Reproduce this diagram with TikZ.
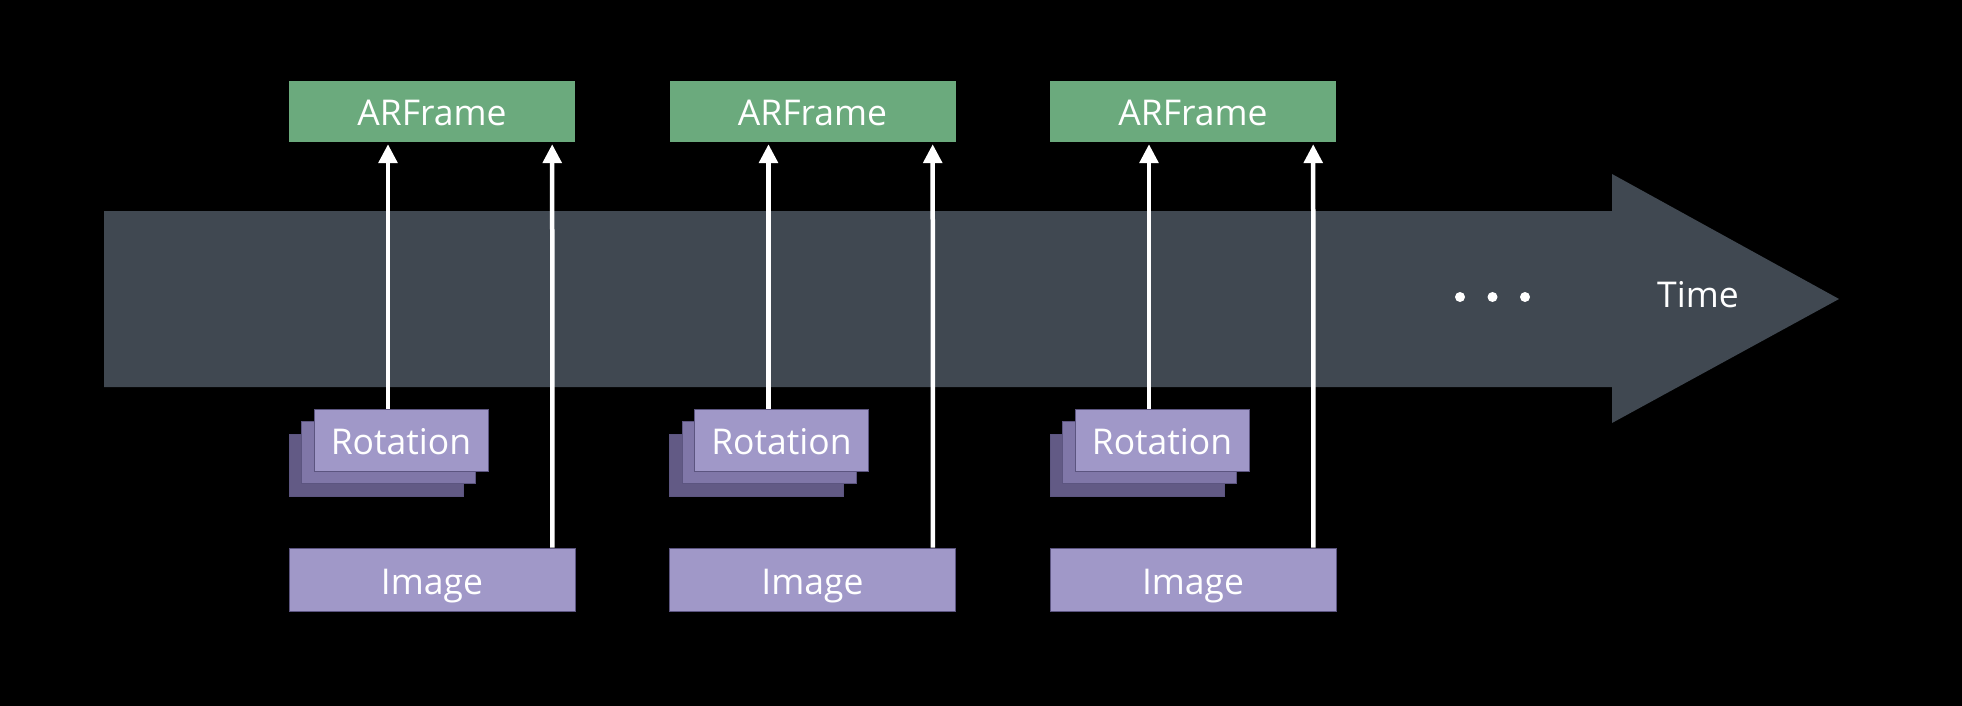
\documentclass[tikz,border=0pt]{standalone}
\usepackage{fontspec}
\setmainfont{Open Sans}
\usetikzlibrary{arrows.meta}
\definecolor{framegreen}{HTML}{6BAA7D}
\definecolor{timebody}{HTML}{404851}
\definecolor{purpleA}{HTML}{A098C8}
\definecolor{purpleB}{HTML}{8077A8}
\definecolor{purpleC}{HTML}{625A85}
\definecolor{purpleEdge}{HTML}{5C5580}
\begin{document}
\begin{tikzpicture}[x=1pt,y=-1pt,
  lbl/.style={inner sep=0pt, text=white, font=\fontsize{35.5}{40}\selectfont, text height=29pt, text depth=0pt},
  framebox/.style={lbl, fill=framegreen, minimum width=286pt, minimum height=61pt},
  imgbox/.style={lbl, fill=purpleA, draw=purpleEdge, line width=0.8pt, minimum width=286pt, minimum height=63pt},
  rotbox/.style={lbl, draw=purpleEdge, line width=0.8pt, minimum width=174pt, minimum height=62pt},
  arr/.style={draw=white, line width=4.5pt, -{Triangle[width=18.5pt,length=19pt]}, shorten >=2pt},
  dot/.style={circle, fill=white, inner sep=0pt, minimum size=10pt}]
\useasboundingbox (0,0) rectangle (1962,706);
\fill[black] (0,0) rectangle (1962,706);
% time arrow
\fill[timebody] (104,211) -- (1612,211) -- (1612,174) -- (1839,299) -- (1612,423) -- (1612,387) -- (104,387) -- cycle;
\node[dot] (d1) at (1460,297) {};
\node[dot] (d2) at (1492.5,297) {};
\node[dot] (d3) at (1525,297) {};
\node[lbl] (time) at (1698,293) {Time};
\foreach \i/\dx in {1/0,2/380.5,3/761}{
  \node[framebox] (ar\i) at (432+\dx,111.5) {ARFrame};
  \node[imgbox] (img\i) at (432+\dx,579.5) {Image};
  \node[rotbox, fill=purpleC] (rotC\i) at (376+\dx,465) {};
  \node[rotbox, fill=purpleB] (rotB\i) at (388.5+\dx,452.5) {};
  \node[rotbox, fill=purpleA] (rotA\i) at (401+\dx,440) {Rotation};
  \draw[arr] ([xshift=-13pt]rotA\i.north) -- ([xshift=-13pt]rotA\i.north |- ar\i.south);
  \draw[arr] ([xshift=-23pt]img\i.north east) -- ([xshift=-23pt]ar\i.south east);
}
\end{tikzpicture}
\end{document}
